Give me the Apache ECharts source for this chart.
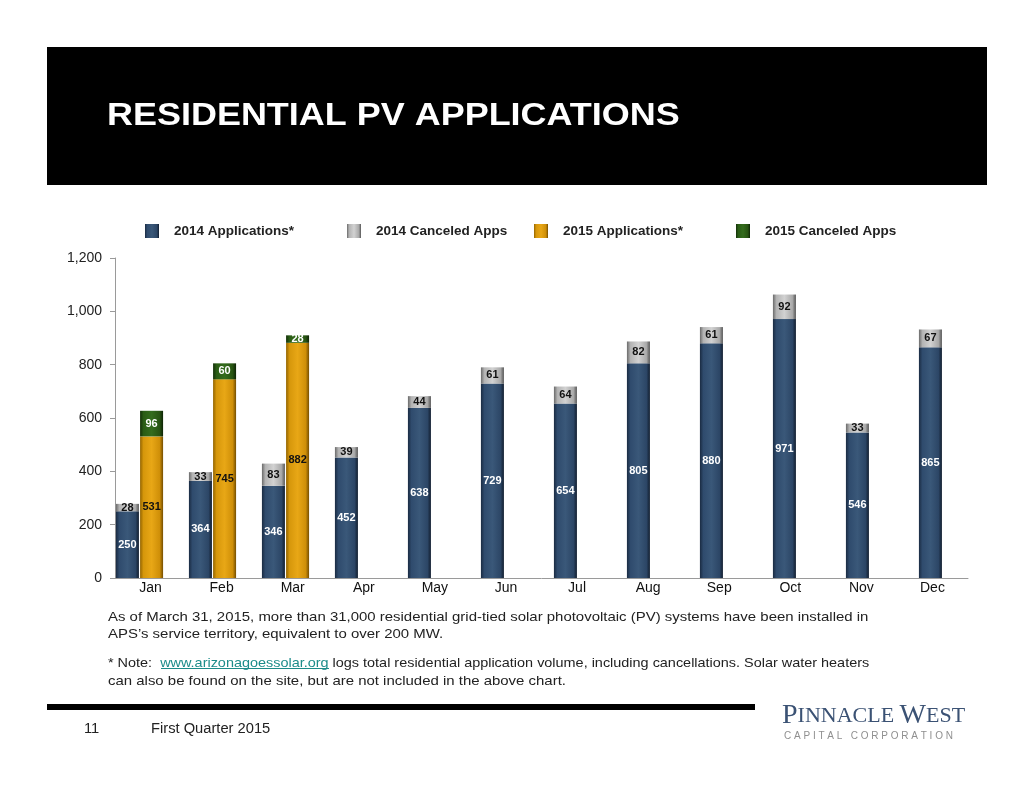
<!DOCTYPE html>
<html>
<head>
<meta charset="utf-8">
<title>Residential PV Applications</title>
<script src="https://cdn.jsdelivr.net/npm/echarts@6/dist/echarts.min.js"></script>
<style>
  html, body { margin: 0; padding: 0; background: #fff; }
  #main { width: 1034px; height: 799px; }
</style>
</head>
<body>
<div id="main"></div>
<script type="text/javascript">
// chart data
var months = ['Jan', 'Feb', 'Mar', 'Apr', 'May', 'Jun', 'Jul', 'Aug', 'Sep', 'Oct', 'Nov', 'Dec'];
var apps2014 = [250, 364, 346, 452, 638, 729, 654, 805, 880, 971, 546, 865];
var canceled2014 = [28, 33, 83, 39, 44, 61, 64, 82, 61, 92, 33, 67];
var apps2015 = [531, 745, 882, null, null, null, null, null, null, null, null, null];
var canceled2015 = [96, 60, 28, null, null, null, null, null, null, null, null, null];

var FONT = '"Liberation Sans", Arial, sans-serif';

// horizontal gradient to fake the bevelled bars
function grad(stops) {
    return new echarts.graphic.LinearGradient(0, 0, 1, 0, stops.map(function (c, i) {
        return { offset: [0, 0.15, 0.5, 0.85, 1][i], color: c };
    }));
}
var navy = grad(['#1a2b42', '#2f4b6d', '#3a5879', '#2c4666', '#121e2f']);
var gray = grad(['#6a6a6a', '#b3b3b3', '#d2d2d2', '#a9a9a9', '#555555']);
var orange = grad(['#946500', '#d6970b', '#e8a716', '#cf8f08', '#754e00']);
var green = grad(['#132f08', '#2a5c15', '#346c1d', '#275312', '#0d2305']);

function barLabel(color) {
    return {
        show: true,
        position: 'inside',
        color: color,
        fontFamily: FONT,
        fontWeight: 'bold',
        fontSize: 11
    };
}

// plain text line for the notes below the chart
function note(x, y, text, sx, size) {
    return {
        type: 'text', x: x, y: y, scaleX: sx || 1.15,
        style: { text: text, fill: '#222', font: (size || 13) + 'px ' + FONT, verticalAlign: 'middle' }
    };
}

var myChart = echarts.init(document.getElementById('main'));

myChart.setOption({
    backgroundColor: '#ffffff',
    animation: false,
    textStyle: { fontFamily: FONT },
    legend: [
        { data: ['2014 Applications*'], left: 145, top: 224 },
        { data: ['2014 Canceled Apps'], left: 347, top: 224 },
        { data: ['2015 Applications*'], left: 534, top: 224 },
        { data: ['2015 Canceled Apps'], left: 736, top: 224 }
    ].map(function (l) {
        l.padding = 0;
        l.icon = 'rect';
        l.itemWidth = 14;
        l.itemHeight = 14;
        l.selectedMode = false;
        l.textStyle = {
            fontFamily: FONT, fontWeight: 'bold', fontSize: 13.5, color: '#222',
            padding: [0, 0, 0, 10]
        };
        return l;
    }),
    grid: [
        // bars live here
        { left: 103, right: 55, top: 258, bottom: 221 },
        // axes as drawn on the slide
        { left: 115, right: 66, top: 258, bottom: 221 }
    ],
    xAxis: [
        {
            type: 'category', gridIndex: 0, data: months,
            axisLine: { show: false }, axisTick: { show: false }, axisLabel: { show: false }
        },
        {
            type: 'category', gridIndex: 1, data: months,
            axisLine: { lineStyle: { color: '#9a9a9a', width: 1 } },
            axisTick: { show: false },
            axisLabel: { color: '#111', fontSize: 14, margin: 3, fontFamily: FONT }
        }
    ],
    yAxis: [
        {
            type: 'value', gridIndex: 0, min: 0, max: 1200, interval: 200,
            show: false, splitLine: { show: false }
        },
        {
            type: 'value', gridIndex: 1, min: 0, max: 1200, interval: 200,
            axisLine: { show: true, lineStyle: { color: '#9a9a9a' } },
            axisTick: { show: true, length: 5, lineStyle: { color: '#9a9a9a' } },
            axisLabel: { color: '#222', fontSize: 14, margin: 13, fontFamily: FONT },
            splitLine: { show: false }
        }
    ],
    series: [
        {
            name: '2014 Applications*', type: 'bar', stack: '2014',
            xAxisIndex: 0, yAxisIndex: 0, barWidth: 23, barGap: '5%',
            data: apps2014,
            itemStyle: { color: navy },
            label: barLabel('#ffffff')
        },
        {
            name: '2014 Canceled Apps', type: 'bar', stack: '2014',
            xAxisIndex: 0, yAxisIndex: 0, barWidth: 23, barGap: '5%',
            data: canceled2014,
            itemStyle: { color: gray },
            label: barLabel('#111111')
        },
        {
            name: '2015 Applications*', type: 'bar', stack: '2015',
            xAxisIndex: 0, yAxisIndex: 0, barWidth: 23, barGap: '5%',
            data: apps2015,
            itemStyle: { color: orange },
            label: barLabel('#111111')
        },
        {
            name: '2015 Canceled Apps', type: 'bar', stack: '2015',
            xAxisIndex: 0, yAxisIndex: 0, barWidth: 23, barGap: '5%',
            data: canceled2015,
            itemStyle: { color: green },
            label: barLabel('#ffffff')
        }
    ],
    graphic: [
        // black title band
        { type: 'rect', z: -1, shape: { x: 47, y: 47, width: 940, height: 138 }, style: { fill: '#000' } },
        {
            type: 'text', x: 107, y: 116, scaleX: 1.16,
            style: {
                text: 'RESIDENTIAL PV APPLICATIONS', fill: '#fff',
                font: 'bold 31px ' + FONT, verticalAlign: 'middle'
            }
        },
        // notes under the chart
        note(108, 617, 'As of March 31, 2015, more than 31,000 residential grid-tied solar photovoltaic (PV) systems have been installed in'),
        note(108, 634, 'APS\u2019s service territory, equivalent to over 200 MW.'),
        {
            type: 'text', x: 108, y: 663, scaleX: 1.11,
            style: {
                text: '{a|* Note:  }{l|www.arizonagoessolar.org}{a| logs total residential application volume, including cancellations. Solar water heaters}',
                verticalAlign: 'middle',
                rich: {
                    a: { fill: '#222', font: '13px ' + FONT },
                    l: { fill: '#1c8c8a', font: '13px ' + FONT }
                }
            }
        },
        note(108, 681, 'can also be found on the site, but are not included in the above chart.'),
        // underline for the link
        { type: 'rect', shape: { x: 161, y: 668, width: 168, height: 1 }, style: { fill: '#1c8c8a' } },
        // footer
        { type: 'rect', shape: { x: 47, y: 704, width: 708, height: 6 }, style: { fill: '#000' } },
        note(84, 729, '11', 1.05, 14),
        note(151, 729, 'First Quarter 2015', 1.05, 14),
        // logo
        {
            type: 'text', x: 782, y: 716,
            style: {
                text: '{b|P}{s|INNACLE }{b|W}{s|EST}',
                verticalAlign: 'middle',
                rich: {
                    b: { fill: '#3b5274', font: '28px "Liberation Serif", serif' },
                    s: { fill: '#3b5274', font: '22px "Liberation Serif", serif' }
                }
            }
        },
        {
            type: 'text', x: 784, y: 736,
            style: {
                text: 'C A P I T A L   C O R P O R A T I O N',
                fill: '#8f8f8f', font: '10px ' + FONT, verticalAlign: 'middle'
            }
        }
    ]
});
</script>
</body>
</html>
